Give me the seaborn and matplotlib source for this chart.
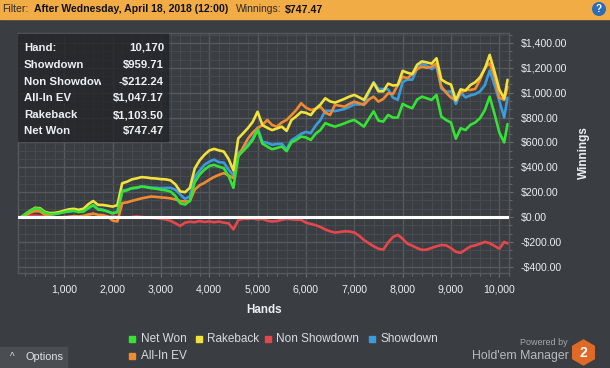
import pandas as pd
import matplotlib
matplotlib.use('Agg')
import matplotlib.pyplot as plt
from matplotlib.ticker import MultipleLocator
from matplotlib.patches import Rectangle, Circle, RegularPolygon
from matplotlib.transforms import Bbox, TransformedBbox
import seaborn as sns

# valores (a cada 100 mãos + mão final)
hands = list(range(0, 10101, 100)) + [10170]

net_won = [0, -5, 25, 50, 70, 66, 35, 25, 25, 30,
           40, 48, 50, 40, 45, 75, 95, 60, 55, 45,
           32, 40, 205, 215, 232, 238, 245, 240, 232, 228,
           220, 215, 205, 170, 110, 100, 130, 280, 340, 380,
           410, 420, 405, 393, 330, 235, 490, 530, 570, 620,
           700, 590, 567, 545, 555, 567, 530, 600, 620, 647,
           640, 620, 670, 700, 755, 740, 727, 740, 754, 770,
           781, 755, 727, 790, 850, 775, 768, 821, 800, 800,
           910, 890, 875, 945, 968, 955, 942, 982, 808, 780,
           760, 630, 714, 700, 741, 760, 795, 860, 968, 830,
           680, 600, 747.47]

non_showdown = [0, 0, 5, 10, 10, 8, 5, 5, 0, -5,
                0, 5, 0, -5, 0, 5, 0, -5, -5, 0,
                5, 0, -5, -5, 0, 5, 0, -3, -5, -8,
                -12, -20, -30, -50, -72, -45, -38, -42, -32, -40,
                -35, -42, -36, -45, -50, -100, -25, -15, -15, -12,
                -20, -15, -30, -36, -32, -22, -15, -18, -22, -22,
                -45, -55, -65, -80, -100, -115, -125, -120, -115, -116,
                -125, -150, -185, -210, -235, -255, -262, -205, -160, -143,
                -175, -215, -230, -250, -264, -262, -248, -235, -225, -228,
                -250, -280, -288, -262, -237, -228, -215, -200, -210, -232,
                -255, -200, -212.24]

showdown = [0, -5, 20, 40, 60, 58, 30, 20, 25, 35,
            40, 43, 50, 45, 45, 70, 95, 65, 60, 45,
            27, 40, 210, 220, 232, 233, 245, 243, 237, 236,
            232, 235, 235, 220, 182, 145, 168, 322, 372, 420,
            445, 462, 441, 438, 380, 335, 515, 545, 585, 632,
            720, 605, 597, 581, 587, 589, 545, 618, 642, 669,
            685, 675, 735, 780, 855, 855, 852, 860, 869, 886,
            906, 905, 912, 1000, 1085, 1030, 1030, 1026, 960, 943,
            1085, 1105, 1105, 1195, 1232, 1217, 1190, 1217, 1033, 1008,
            1010, 910, 1002, 962, 978, 988, 1010, 1060, 1178, 1062,
            935, 800, 959.71]

rakeback = [0, -5, 25, 52, 74, 71, 41, 32, 33, 40,
            52, 62, 66, 58, 67, 103, 129, 98, 97, 91,
            84, 95, 272, 284, 303, 311, 321, 318, 312, 310,
            305, 303, 295, 263, 206, 200, 235, 390, 455, 500,
            535, 548, 536, 527, 467, 375, 632, 673, 715, 766,
            847, 739, 718, 699, 712, 727, 693, 780, 810, 845,
            838, 820, 870, 905, 955, 930, 920, 935, 951, 969,
            982, 963, 942, 1012, 1079, 1011, 1011, 1073, 1058, 1062,
            1176, 1160, 1150, 1225, 1252, 1243, 1234, 1277, 1106, 1081,
            1065, 939, 1027, 1017, 1061, 1084, 1123, 1192, 1304, 1170,
            1025, 952, 1103.5]

all_in_ev = [0, -3, 15, 35, 48, 45, 20, 5, -2, -6,
             -8, 0, 8, 5, 10, 20, 28, 18, 15, 5,
             -28, -36, 112, 118, 130, 140, 150, 158, 165, 162,
             158, 155, 150, 142, 128, 125, 130, 220, 255, 275,
             300, 322, 339, 353, 335, 313, 486, 560, 630, 680,
             714, 740, 781, 740, 727, 760, 781, 820, 861, 915,
             880, 861, 870, 888, 840, 821, 902, 895, 888, 910,
             928, 915, 902, 945, 968, 928, 950, 995, 990, 1060,
             1129, 1116, 1150, 1190, 1209, 1200, 1209, 1235, 1049, 1000,
             960, 942, 1000, 1022, 1022, 1030, 1103, 1200, 1236, 1129,
             960, 942, 1047.17]

x_ticks = [1000, 2000, 3000, 4000, 5000, 6000, 7000, 8000, 9000, 10000]
x_labels = ['1,000', '2,000', '3,000', '4,000', '5,000', '6,000', '7,000',
            '8,000', '9,000', '10,000']
y_ticks = [-400, -200, 0, 200, 400, 600, 800, 1000, 1200, 1400]
y_labels = ['-$400.00', '-$200.00', '$0.00', '$200.00', '$400.00', '$600.00',
            '$800.00', '$1,000.00', '$1,200.00', '$1,400.00']

stat_names = ['Hand:', 'Showdown', 'Non Showdown', 'All-In EV', 'Rakeback', 'Net Won']
stat_values = ['10,170', '$959.71', '-$212.24', '$1,047.17', '$1,103.50', '$747.47']

legend_names = ['Net Won', 'Rakeback', 'Non Showdown', 'Showdown', 'All-In EV']

colors = {
    'Net Won': '#35E335',
    'Rakeback': '#F2E23C',
    'Non Showdown': '#E5474C',
    'Showdown': '#3A9BDD',
    'All-In EV': '#F18B31',
}

BG = '#3A3D41'
GRID_MAJ = '#56595D'
GRID_MIN = '#474A4E'
TXT = '#ECF0F4'

sns.set_style('dark', {'axes.facecolor': BG, 'figure.facecolor': BG})
plt.rcParams['font.family'] = ['Liberation Sans', 'DejaVu Sans']

series = {
    'Non Showdown': non_showdown,
    'Showdown': showdown,
    'All-In EV': all_in_ev,
    'Rakeback': rakeback,
    'Net Won': net_won,
}
frames = []
for name, vals in series.items():
    frames.append(pd.DataFrame({'Hands': hands, 'Value': vals, 'Series': name}))
df = pd.concat(frames, ignore_index=True)

W, H = 610, 368
fig = plt.figure(figsize=(W / 100, H / 100), dpi=100, facecolor=BG)
ax = fig.add_axes([18 / W, 1 - 273 / H, (509.5 - 18) / W, (273 - 33) / H], zorder=5)
ax.set_facecolor(BG)

sns.lineplot(data=df, x='Hands', y='Value', hue='Series',
             hue_order=list(series.keys()), palette=colors,
             linewidth=1.9, legend=False, estimator=None, sort=False, ax=ax)
ax.axhline(0, color='white', linewidth=2.2, zorder=3)

ax.set_xlim(45, 10210)
ax.set_ylim(-450, 1480)

# grade principal e secundária
ax.set_xticks(x_ticks)
ax.set_xticklabels(x_labels)
ax.xaxis.set_minor_locator(MultipleLocator(200))
ax.yaxis.tick_right()
ax.yaxis.set_label_position('right')
ax.set_yticks(y_ticks)
ax.set_yticklabels(y_labels)
ax.yaxis.set_minor_locator(MultipleLocator(200 / 3))
ax.grid(True, which='minor', color=GRID_MIN, linewidth=0.8)
ax.grid(True, which='major', color=GRID_MAJ, linewidth=1.0)
ax.set_axisbelow(True)

ax.tick_params(which='both', direction='out', colors='#6C6F73', labelcolor=TXT,
               labelsize=7.6, bottom=True, right=True, left=False)
ax.tick_params(which='major', length=3, pad=5)
ax.tick_params(which='minor', length=2.5)
for s in ax.spines.values():
    s.set_color(GRID_MAJ)
    s.set_linewidth(1.0)

ax.set_xlabel('Hands', fontsize=8.4, fontweight='bold', color=TXT, labelpad=7)
ax.set_ylabel('Winnings', fontsize=8.5, fontweight='bold', color=TXT, rotation=90)
ax.yaxis.set_label_coords((578 - 18) / 491.5, 0.5)

# camada de sobreposição em pixels
ov = fig.add_axes([0, 0, 1, 1], zorder=10)
ov.set_xlim(0, W)
ov.set_ylim(H, 0)
ov.axis('off')
ov.patch.set_alpha(0)

# barra de filtro
ov.add_patch(Rectangle((0, 0), W, 18.5, color='#F1AC45', zorder=1))
ov.text(2, 9.5, 'Filter:', fontsize=7.5, color='#2A2A2A', va='center')
ov.text(34, 9.5, 'After Wednesday, April 18, 2018 (12:00)', fontsize=7.6,
        fontweight='bold', color='#111111', va='center')
ov.text(236, 9.5, 'Winnings:', fontsize=7.5, color='#2A2A2A', va='center')
ov.text(285, 9.5, '$747.47', fontsize=7.6, fontweight='bold', color='#111111', va='center')
ov.add_patch(Circle((599, 9), 6.3, color='#2D6CB6', zorder=2))
ov.text(599, 9.3, '?', fontsize=7, fontweight='bold', color='white',
        ha='center', va='center', zorder=3)

# caixa de estatísticas
ov.add_patch(Rectangle((18, 34), 150, 107, color='#232528', alpha=0.8, zorder=1))
row_y = [48, 65, 82, 98, 115, 131]
clip = TransformedBbox(Bbox([[18 / W, 1 - 141 / H], [101 / W, 1 - 34 / H]]), fig.transFigure)
for name, val, y in zip(stat_names, stat_values, row_y):
    t = ov.text(24, y, name, fontsize=8.2, fontweight='bold', color=TXT, va='center')
    t.set_clip_box(clip)
    t.set_clip_on(True)
    ov.text(164, y, val, fontsize=8.2, fontweight='bold', color=TXT, va='center', ha='right')

# legenda
leg_pos = [(132.3, 339, 140.9), (199.2, 339, 207.4), (267.7, 339, 276.3),
           (371.6, 339, 380.2), (132.3, 356, 140.9)]
for name, (sx, sy, tx) in zip(legend_names, leg_pos):
    ov.add_patch(Rectangle((sx - 3, sy - 3), 6, 6, color=colors[name]))
    ov.text(tx, sy, name, fontsize=8.5, color='#D9DDE1', va='center')

# botão de opções
ov.add_patch(Rectangle((0, 347), 67, 21, color='#4A4D52'))
ov.text(12, 357.5, '^', fontsize=7, color='#D9DDE1', ha='center', va='center')
ov.text(25, 357.5, 'Options', fontsize=7.9, color='#E0E4E8', va='center')

# logo
ov.text(568, 342.5, 'Powered by', fontsize=6.5, color='#A4A7AA', ha='right', va='center')
ov.text(569, 356, "Hold'em Manager", fontsize=8.8, color='#B9BCBF', ha='right', va='center')
ov.add_patch(RegularPolygon((583.5, 352.5), 6, radius=12.5, color='#DF6A27'))
ov.text(583.5, 353, '2', fontsize=10, fontweight='bold', color='white',
        ha='center', va='center')

fig.savefig('out.png', dpi=100, facecolor=BG)
